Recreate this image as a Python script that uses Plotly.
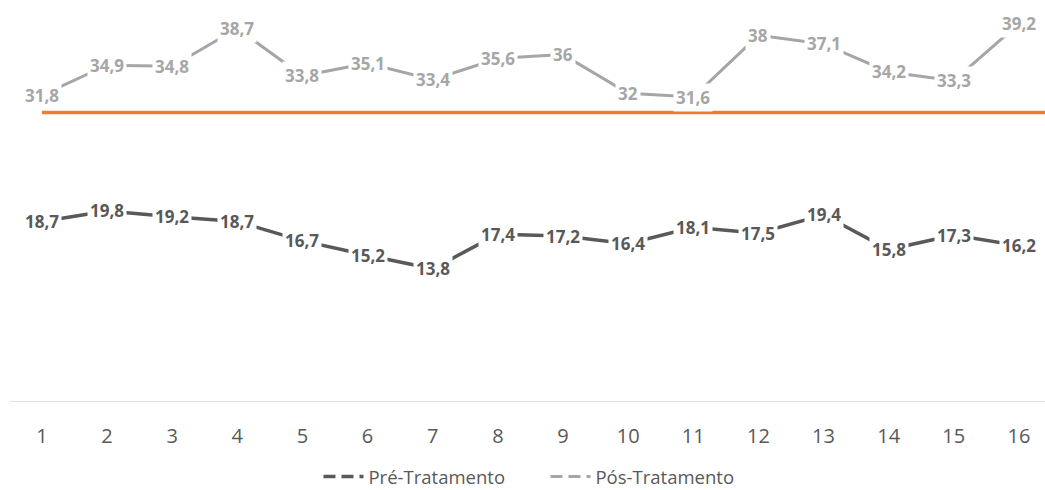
import plotly.graph_objects as go

categories = list(range(1, 17))
pre_values = [18.7, 19.8, 19.2, 18.7, 16.7, 15.2, 13.8, 17.4, 17.2, 16.4, 18.1, 17.5, 19.4, 15.8, 17.3, 16.2]
pos_values = [31.8, 34.9, 34.8, 38.7, 33.8, 35.1, 33.4, 35.6, 36.0, 32.0, 31.6, 38.0, 37.1, 34.2, 33.3, 39.2]
limit_value = 30

PRE_COLOR = "#595959"
POS_COLOR = "#A6A6A6"
ORANGE = "#ED7D31"
FONT = "Open Sans"


def fmt(v):
    s = ("%.1f" % v).rstrip("0").rstrip(".")
    return s.replace(".", ",")


fig = go.Figure()

fig.add_trace(go.Scatter(x=categories, y=pre_values, mode="lines",
                         line=dict(color=PRE_COLOR, width=3.5), showlegend=False,
                         hoverinfo="skip"))
fig.add_trace(go.Scatter(x=categories, y=pos_values, mode="lines",
                         line=dict(color=POS_COLOR, width=3), showlegend=False,
                         hoverinfo="skip"))

# legend entries
fig.add_trace(go.Scatter(x=[None], y=[None], mode="lines", name="Pré-Tratamento",
                         line=dict(color=PRE_COLOR, width=3.5, dash="12px,6px")))
fig.add_trace(go.Scatter(x=[None], y=[None], mode="lines", name="Pós-Tratamento",
                         line=dict(color=POS_COLOR, width=3, dash="12px,6px")))

annotations = []
for x, v in zip(categories, pre_values):
    annotations.append(dict(x=x, y=v, xref="x", yref="y", text="<b>" + fmt(v) + "</b>",
                            showarrow=False, bgcolor="white", borderpad=2,
                            font=dict(family=FONT, size=17, color=PRE_COLOR)))
for x, v in zip(categories, pos_values):
    annotations.append(dict(x=x, y=v, xref="x", yref="y", text="<b>" + fmt(v) + "</b>",
                            showarrow=False, bgcolor="white", borderpad=2,
                            font=dict(family=FONT, size=17, color=POS_COLOR)))

fig.update_layout(
    width=1045, height=490,
    margin=dict(l=10, r=0, t=16, b=88, autoexpand=False),
    paper_bgcolor="white", plot_bgcolor="white",
    font=dict(family=FONT, color=PRE_COLOR),
    xaxis=dict(range=[0.51, 16.4], tickmode="array", tickvals=categories,
               ticktext=[str(c) for c in categories], showgrid=False,
               zeroline=False, showline=False, ticks="outside", ticklen=16,
               tickcolor="rgba(0,0,0,0)", automargin=False,
               tickfont=dict(size=20, color=PRE_COLOR, family=FONT)),
    yaxis=dict(range=[0, 40], visible=False, showgrid=False, zeroline=False),
    shapes=[
        dict(type="line", xref="paper", yref="y", x0=0, x1=1, y0=0, y1=0,
             line=dict(color="#D9D9D9", width=1.5), layer="below"),
        dict(type="line", xref="x", yref="y", x0=categories[0], x1=16.4,
             y0=limit_value, y1=limit_value,
             line=dict(color=ORANGE, width=3.5)),
    ],
    annotations=annotations,
    legend=dict(orientation="h", x=0.522, xanchor="center", xref="container",
                y=-75 / 386, yanchor="middle", yref="paper",
                font=dict(size=18.5, color=PRE_COLOR, family=FONT),
                entrywidth=172, entrywidthmode="pixels",
                itemwidth=40, tracegroupgap=0),
    showlegend=True,
)

fig.write_html("out.html")
